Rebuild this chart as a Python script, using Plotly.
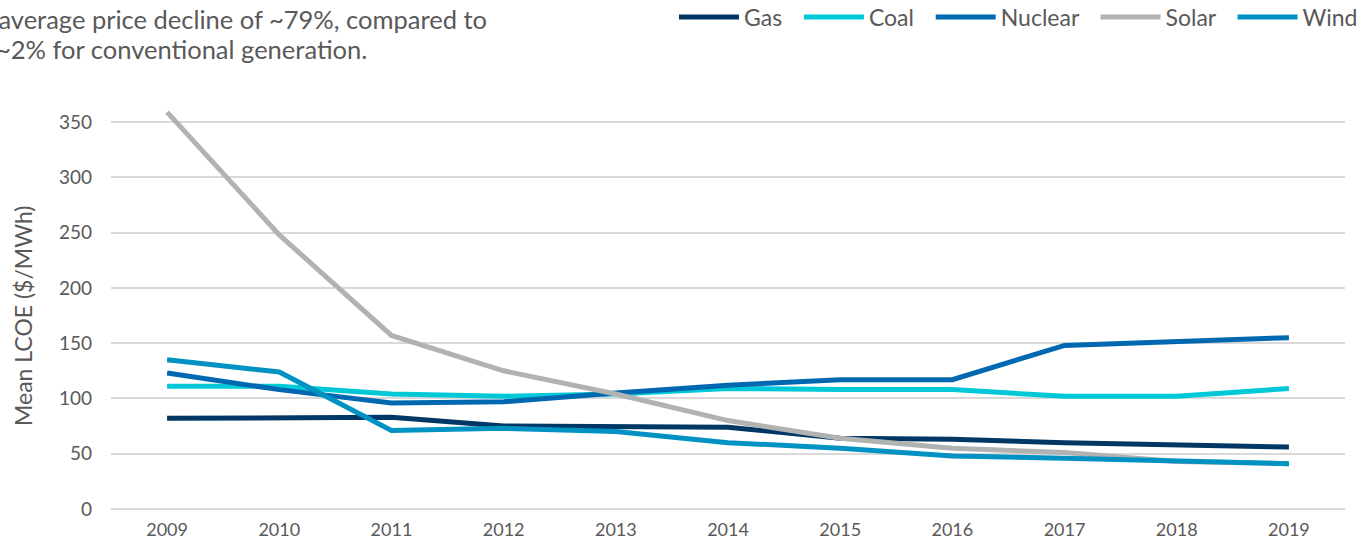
import plotly.graph_objects as go

years = ["2009", "2010", "2011", "2012", "2013", "2014", "2015", "2016", "2017", "2018", "2019"]
gas = [82, 82, 83, 75, 74, 74, 64, 63, 60, 58, 56]
coal = [111, 111, 104, 102, 104, 109, 108, 108, 102, 102, 109]
nuclear = [123, 108, 96, 97, 105, 112, 117, 117, 148, 151, 155]
solar = [359, 248, 157, 125, 104, 80, 64, 55, 51, 43, 41]
wind = [135, 124, 71, 73, 70, 60, 55, 48, 46, 43, 41]

series = [
    ("Gas", gas, "#003764"),
    ("Coal", coal, "#00C8D7"),
    ("Nuclear", nuclear, "#0068B1"),
    ("Solar", solar, "#B1B3B3"),
    ("Wind", wind, "#0092C2"),
]

FONT = "Lato"
GREY = "#595959"
ML, MR, MT, MB = 111, 19, 100, 33
PW, PH = 1364 - ML - MR, 542 - MT - MB


def px_x(p):
    return (p - ML) / PW


def px_y(p):
    return 1 + (MT - p) / PH


fig = go.Figure()
for i, (name, vals, color) in enumerate(series):
    label = name if i == len(series) - 1 else name + "&nbsp;&nbsp;"
    fig.add_trace(go.Scatter(
        x=years, y=vals, name=label, mode="lines",
        line=dict(color=color, width=5), hoverinfo="skip",
    ))

fig.update_layout(
    width=1364, height=542,
    margin=dict(l=ML, r=MR, t=MT, b=MB, autoexpand=False),
    paper_bgcolor="white", plot_bgcolor="white",
    font=dict(family=FONT, color=GREY, size=18),
    hovermode=False,
    showlegend=True,
    legend=dict(
        orientation="h", xref="paper", yref="paper",
        x=px_x(674), xanchor="left", y=px_y(17), yanchor="middle",
        font=dict(size=23, color=GREY, family=FONT),
        itemwidth=60, bgcolor="rgba(0,0,0,0)",
    ),
    xaxis=dict(
        type="category", showgrid=False, zeroline=False, showline=False,
        ticks="", tickfont=dict(size=18, color=GREY), automargin=False,
        ticklabelstandoff=8, range=[-0.5, 10.5],
    ),
    yaxis=dict(
        range=[0, 370], tickvals=[0, 50, 100, 150, 200, 250, 300, 350],
        showgrid=True, gridcolor="#D9D9D9", gridwidth=1.5,
        zeroline=True, zerolinecolor="#D9D9D9", zerolinewidth=1.5,
        showline=False, ticks="", ticklabelstandoff=18, automargin=False,
        tickfont=dict(size=19, color=GREY),
    ),
)

fig.add_annotation(
    text="Mean LCOE ($/MWh)", textangle=-90,
    xref="paper", yref="paper", x=px_x(23), y=px_y(316),
    xanchor="center", yanchor="middle", showarrow=False,
    font=dict(size=23, color=GREY, family=FONT),
)
fig.add_annotation(
    text="an average price decline of ~79%, compared to",
    xref="paper", yref="paper", x=px_x(489), y=px_y(19),
    xanchor="right", yanchor="middle", showarrow=False,
    font=dict(size=25.5, color=GREY, family=FONT), align="left",
)
fig.add_annotation(
    text="~2% for conventional generation.",
    xref="paper", yref="paper", x=px_x(369), y=px_y(49),
    xanchor="right", yanchor="middle", showarrow=False,
    font=dict(size=25.5, color=GREY, family=FONT), align="left",
)

fig.write_html(
    "out.html",
    config={"displayModeBar": False},
    post_script="document.body.style.margin='0';document.body.style.padding='0';",
)
